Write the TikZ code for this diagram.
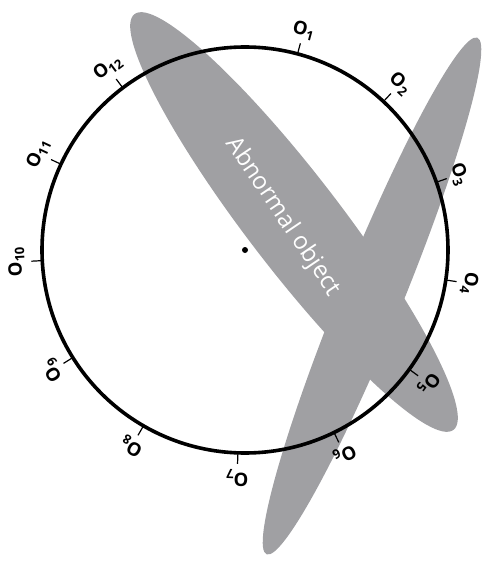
\documentclass[tikz,border=0pt]{standalone}
\usepackage{fontspec}
\setmainfont{Open Sans}
\usepackage{tikz}
\usetikzlibrary{positioning}
\definecolor{objgray}{RGB}{160,160,163}
\tikzset{
  object-shape/.style={fill=objgray, draw=none},
  ring-line/.style={line width=3.6pt, draw=black},
  tick-mark/.style={line width=1.2pt, draw=black},
  tick-label/.style={font=\fontsize{18.5}{18.5}\selectfont\bfseries, inner sep=1pt},
  object-text/.style={font=\fontsize{24}{24}\selectfont, text=white, inner sep=0pt}
}
\begin{document}
\begin{tikzpicture}[x=1pt, y=1pt]
\useasboundingbox (-245,-312) rectangle (237,250);
% abnormal object
\fill[object-shape, rotate around={67.8:(127,-46)}] (127,-46) ellipse [x radius=279, y radius=31];
\fill[object-shape, rotate around={-52.5:(49,28)}] (49,28) ellipse [x radius=262, y radius=47];
\node[object-text, rotate=-56] (abn) at (38,33) {Abnormal object};
% dial
\draw[ring-line] (0,0) circle [radius=203];
\fill (0,0) circle [radius=3];
\node[inner sep=0pt] (center) at (0,0) {};
\draw[tick-mark] (75:203) -- (75:214);
\draw[tick-mark] (47:203) -- (47:214);
\draw[tick-mark] (19.5:203) -- (19.5:214);
\draw[tick-mark] (-8.5:203) -- (-8.5:214);
\draw[tick-mark] (-36:203) -- (-36:214);
\draw[tick-mark] (-64:203) -- (-64:214);
\draw[tick-mark] (-92:203) -- (-92:214);
\draw[tick-mark] (-120:203) -- (-120:214);
\draw[tick-mark] (-148:203) -- (-148:214);
\draw[tick-mark] (-177:203) -- (-177:214);
\draw[tick-mark] (155:203) -- (155:214);
\draw[tick-mark] (127:203) -- (127:214);
\node[tick-label, rotate=-15] (o1) at (75:227) {O\textsubscript{1}};
\node[tick-label, rotate=-43] (o2) at (47:227) {O\textsubscript{2}};
\node[tick-label, rotate=-70.5] (o3) at (19.5:227) {O\textsubscript{3}};
\node[tick-label, rotate=-98.5] (o4) at (-8.5:227) {O\textsubscript{4}};
\node[tick-label, rotate=-126] (o5) at (-36:227) {O\textsubscript{5}};
\node[tick-label, rotate=-154] (o6) at (-64:227) {O\textsubscript{6}};
\node[tick-label, rotate=-182] (o7) at (-92:228) {O\textsubscript{7}};
\node[tick-label, rotate=-210] (o8) at (-120:227) {O\textsubscript{8}};
\node[tick-label, rotate=-238] (o9) at (-148:227) {O\textsubscript{9}};
\node[tick-label, rotate=-267] (o10) at (-177:229) {O\textsubscript{10}};
\node[tick-label, rotate=65] (o11) at (155:228) {O\textsubscript{11}};
\node[tick-label, rotate=37] (o12) at (127:228) {O\textsubscript{12}};
\end{tikzpicture}
\end{document}
